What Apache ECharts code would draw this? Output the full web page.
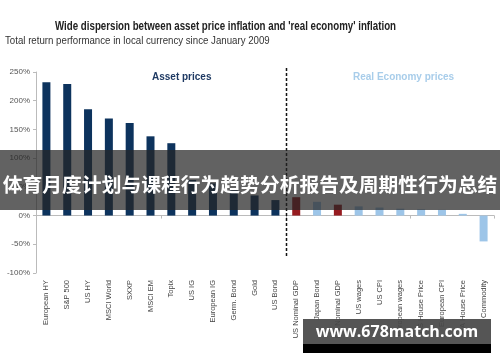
<!DOCTYPE html>
<html>
<head>
<meta charset="utf-8">
<script src="https://cdn.jsdelivr.net/npm/echarts@6/dist/echarts.min.js"></script>
<style>
html,body{margin:0;padding:0;background:#fff;}
#c{width:500px;height:362px;}
</style>
</head>
<body>
<div id="c"></div>
<script>
const categories = ["European HY","S&P 500","US HY","MSCI World","SXXP","MSCI EM","Topix","US IG","European IG","Germ. Bond","Gold","US Bond","US Nominal GDP","Japan Bond","EU Nominal GDP","US wages","US CPI","European wages","US House Price","European CPI","EA House Price","Commodity"];
const values = [232,229,185,169,161,138,126,62,56,44,35,27,32,24,19,16,14,12,11,10,3,-45];
const assetCount = 12;
const redCategories = ["US Nominal GDP","EU Nominal GDP"];
const yTicks = {min:-100, max:250, interval:50};
const dividerRange = [257, -71];

const chart = echarts.init(document.getElementById('c'), null, {renderer:'canvas'});
const sans = '"Liberation Sans",Arial,sans-serif';
const option = {
  animation:false,
  backgroundColor:'#fff',
  grid:{left:36, right:6, top:72, bottom:89, containLabel:false},
  xAxis:[
    {type:'category', data:categories, position:'bottom',
     axisLine:{show:false, onZero:false}, axisTick:{show:false},
     axisLabel:{rotate:90, interval:0, fontSize:7.5, color:'#444', margin:7, fontFamily:sans}},
    {type:'category', data:categories, position:'bottom',
     axisLine:{show:true, onZero:true, lineStyle:{color:'#bbb', width:1}},
     axisTick:{show:true, inside:false, length:3, lineStyle:{color:'#bbb'}},
     axisLabel:{show:false}}
  ],
  yAxis:{type:'value', min:yTicks.min, max:yTicks.max, interval:yTicks.interval,
    axisLine:{show:true, lineStyle:{color:'#bbb'}},
    axisTick:{show:true, length:3, lineStyle:{color:'#bbb'}},
    splitLine:{show:false},
    axisLabel:{formatter:'{value}%', fontSize:8, color:'#555', margin:6, fontFamily:sans}},
  series:[{
    type:'bar', data:values, barWidth:8, xAxisIndex:0,
    itemStyle:{color:function(p){
      if(p.dataIndex < assetCount) return '#0d335d';
      if(redCategories.indexOf(p.name) >= 0) return '#961b1f';
      return '#9dc5e8';
    }}
  }]
};
chart.setOption(option);

function build(){
  const i1 = categories.indexOf("US Bond"), i2 = categories.indexOf("US Nominal GDP");
  const xa = chart.convertToPixel({xAxisIndex:0}, categories[i1]);
  const xb = chart.convertToPixel({xAxisIndex:0}, categories[i2]);
  const xd = Math.round((xa+xb)/2)+0.5;
  const yt = chart.convertToPixel({yAxisIndex:0}, dividerRange[0]);
  const yb = chart.convertToPixel({yAxisIndex:0}, dividerRange[1]);
  chart.setOption({graphic:[
    {type:'text', x:55, y:27, scaleX:0.81, style:{text:"Wide dispersion between asset price inflation and 'real economy' inflation", fontFamily:sans, fontWeight:'bold', fontSize:12, fill:'#222', verticalAlign:'middle'}, z:50},
    {type:'text', x:5, y:41, scaleX:0.88, style:{text:"Total return performance in local currency since January 2009", fontFamily:sans, fontSize:11, fill:'#333', verticalAlign:'middle'}, z:50},
    {type:'line', shape:{x1:xd, y1:yt, x2:xd, y2:yb}, style:{stroke:'#111', lineWidth:1.5, lineDash:[3,2]}, z:50},
    {type:'text', left:152, top:72, style:{text:'Asset prices', fontFamily:sans, fontWeight:'bold', fontSize:10, fill:'#1f3a63'}, z:50},
    {type:'text', left:353, top:72, style:{text:'Real Economy prices', fontFamily:sans, fontWeight:'bold', fontSize:10, fill:'#a8cdea'}, z:50},
    {type:'rect', shape:{x:0, y:150, width:500, height:60}, style:{fill:'rgba(38,38,38,0.72)'}, z:100},
    {type:'text', x:250, y:184, style:{text:'体育月度计划与课程行为趋势分析报告及周期性行为总结', fontFamily:'"Noto Sans CJK SC",sans-serif', fontWeight:'bold', fontSize:19.8, fill:'#fff', align:'center', verticalAlign:'middle'}, z:101},
    {type:'rect', shape:{x:303, y:319, width:188, height:25}, style:{fill:'rgba(70,70,70,0.92)'}, z:100},
    {type:'rect', shape:{x:303, y:344, width:188, height:9}, style:{fill:'#000'}, z:100},
    {type:'text', x:397, y:332, style:{text:'www.678match.com', fontFamily:'"Open Sans","DejaVu Sans",sans-serif', fontWeight:'bold', fontSize:16, fill:'#fff', align:'center', verticalAlign:'middle'}, z:101}
  ]});
}
build();
</script>
</body>
</html>
